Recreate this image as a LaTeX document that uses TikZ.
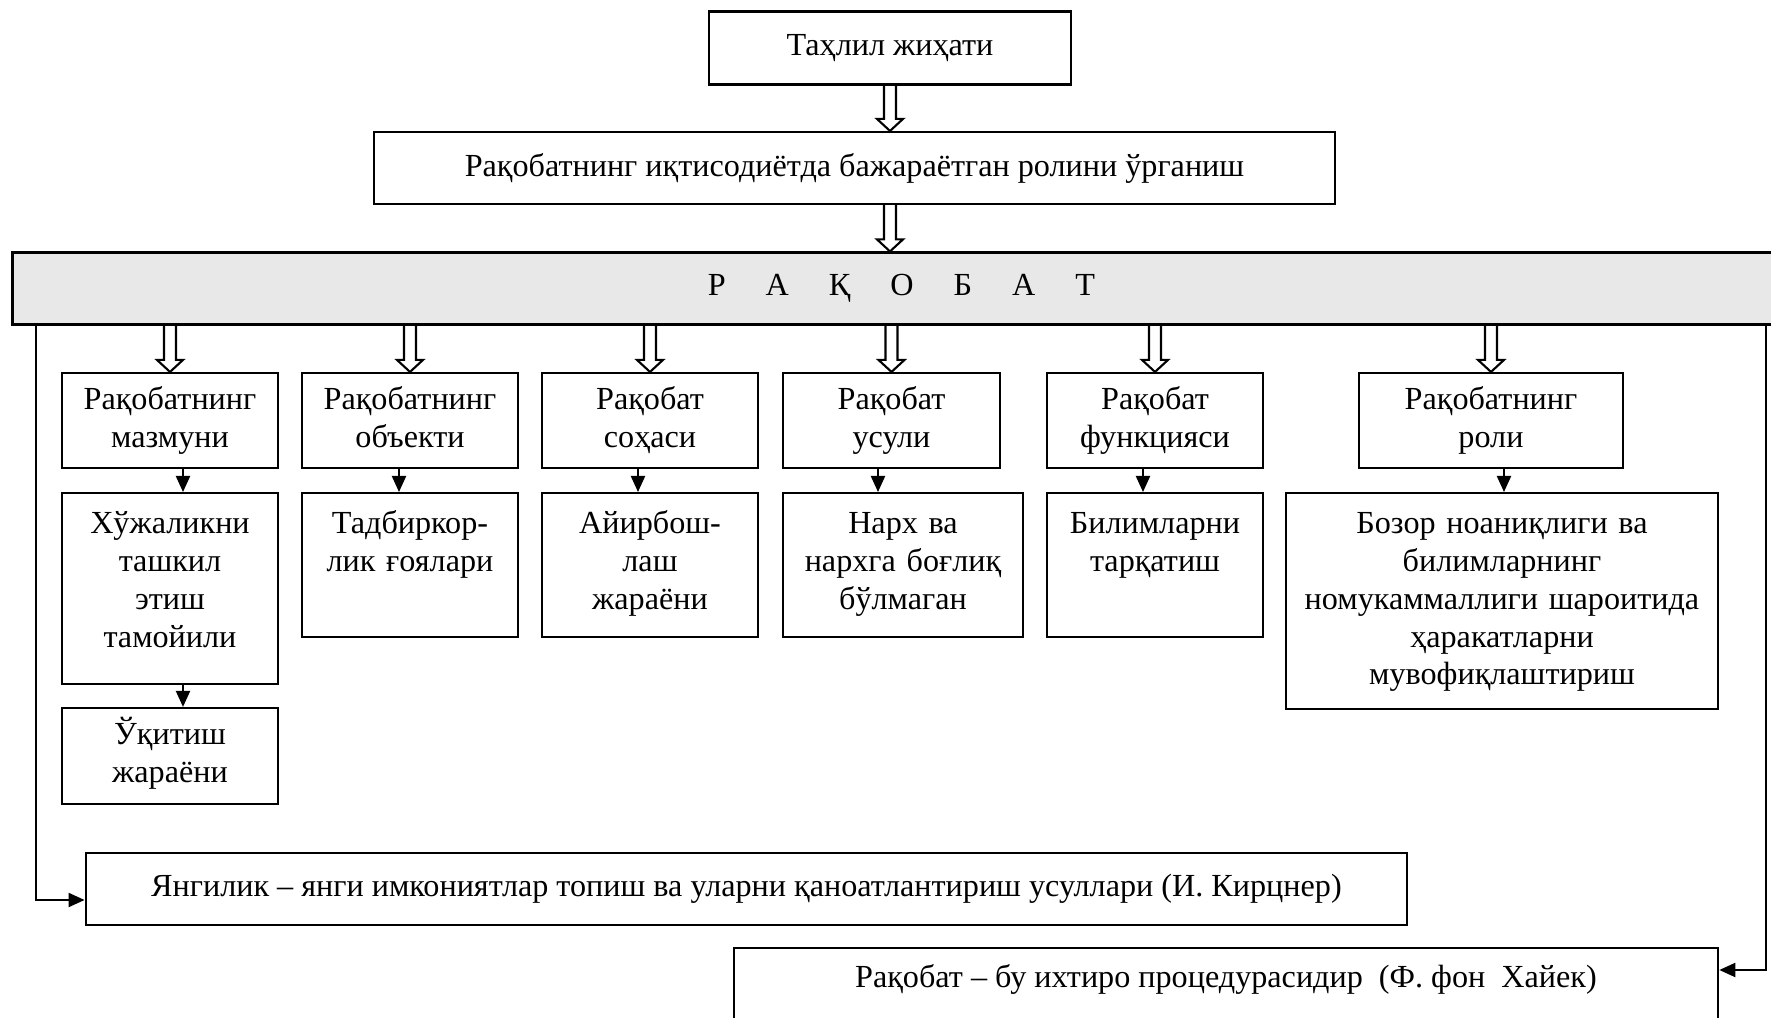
\documentclass[tikz,border=0pt]{standalone}
\usepackage{fontspec}
\setmainfont{Liberation Serif}
\usetikzlibrary{arrows.meta,calc}
\tikzset{
	box/.style={draw, line width=0.6pt, fill=white, align=center, inner sep=0pt},
	head/.style={box, minimum width=2.16cm, minimum height=0.95cm, text width=2.1cm, text height=0.21cm, text depth=0.43cm},
	topbox/.style={box, anchor=north, text width=#1, inner ysep=0.19cm, text height=0.21cm},
	link/.style={line width=0.6pt, -{Triangle[length=0.16cm,width=0.14cm]}},
	hollow/.style={draw, line width=0.6pt, line join=miter}
}
\begin{document}
\begin{tikzpicture}[x=0.01cm, y=-0.01cm, font=\fontsize{9.15}{10.8}\selectfont]
	\newcommand{\hollowarrow}[2]{%
	\draw [hollow] ($(#1)+(-6,0)$) -- ($(#2)+(-6,-12)$) -- ($(#2)+(-13,-12)$) -- (#2)
	-- ($(#2)+(13,-12)$) -- ($(#2)+(6,-12)$) -- ($(#1)+(6,0)$);}
	\useasboundingbox (0,0) rectangle (1771,1018);
	%title boxes
	\node [box, minimum width=3.62cm, minimum height=0.73cm] (aspect) at (890,48) {Таҳлил жиҳати};
	\node [box, minimum width=9.61cm, minimum height=0.72cm] (study) at (854.5,168) {Рақобатнинг иқтисодиётда бажараётган ролини ўрганиш};
	\node [box, fill=gray!18, minimum width=17.77cm, minimum height=0.72cm] (comp) at (901.5,288.5)
	{Р\hspace{0.4cm}А\hspace{0.4cm}Қ\hspace{0.4cm}О\hspace{0.4cm}Б\hspace{0.4cm}А\hspace{0.4cm}Т};
	\hollowarrow{aspect.south}{study.north -| aspect.south}
	\hollowarrow{study.south -| aspect.south}{comp.north -| aspect.south}
	%first row
	\node [head] (content) at (170,420.5) {Рақобатнинг\\мазмуни};
	\node [head] (object) at (410,420.5) {Рақобатнинг\\объекти};
	\node [head] (field) at (650,420.5) {Рақобат\\соҳаси};
	\node [head] (method) at (891.5,420.5) {Рақобат\\усули};
	\node [head] (func) at (1155,420.5) {Рақобат\\функцияси};
	\node [head, minimum width=2.64cm] (role) at (1491,420.5) {Рақобатнинг\\роли};
	\foreach \n in {content,object,field,method,func,role}
	\hollowarrow{comp.south -| \n.north}{\n.north};
	%second row
	\node [topbox=2.16cm, text depth=1.32cm] (farm) at (170,492) {Хўжаликни\\ташкил\\этиш\\тамойили};
	\node [topbox=2.16cm, text depth=0.85cm] (idea) at (410,492) {Тадбиркор-\\лик ғоялари};
	\node [topbox=2.16cm, text depth=0.85cm] (trade) at (650,492) {Айирбош-\\лаш\\жараёни};
	\node [topbox=2.40cm, text depth=0.85cm] (price) at (903,492) {Нарх ва\\нархга боғлиқ\\бўлмаган};
	\node [topbox=2.16cm, text depth=0.85cm] (know) at (1155,492) {Билимларни\\тарқатиш};
	\node [topbox=4.32cm, text depth=1.57cm] (coord) at (1502,492) {Бозор ноаниқлиги ва\\билимларнинг\\номукаммаллиги шароитида\\ҳаракатларни\\мувофиқлаштириш};
	\node [head, minimum height=0.96cm] (learn) at (170,756) {Ўқитиш\\жараёни};
	\draw [link] (content.south -| 183,0) -- (farm.north -| 183,0);
	\draw [link] (farm.south -| 183,0) -- (learn.north -| 183,0);
	\draw [link] (object.south -| 399,0) -- (idea.north -| 399,0);
	\draw [link] (field.south -| 638,0) -- (trade.north -| 638,0);
	\draw [link] (method.south -| 878,0) -- (price.north -| 878,0);
	\draw [link] (func.south -| 1143,0) -- (know.north -| 1143,0);
	\draw [link] (role.south -| 1504,0) -- (coord.north -| 1504,0);
	%bottom boxes
	\node [box, minimum width=13.21cm, minimum height=0.72cm] (novel) at (746.5,889) {Янгилик – янги имкониятлар топиш ва уларни қаноатлантириш усуллари (И. Кирцнер)};
	\node [box, minimum width=9.84cm, minimum height=0.82cm, text depth=0.26cm] (hayek) at (1226,989) {Рақобат – бу ихтиро процедурасидир\ \ (Ф. фон\ \ Хайек)};
	\draw [link] ([xshift=0.25cm]comp.south west) |- (novel.west |- 0,900);
	\draw [link] (comp.south -| 1766,0) |- (hayek.east |- 0,970);
\end{tikzpicture}
\end{document}
